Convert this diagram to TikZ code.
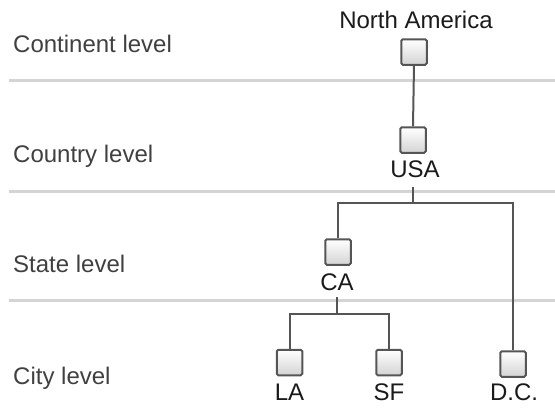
\documentclass[tikz,border=0pt]{standalone}
\usepackage{fontspec}
\setmainfont{Liberation Sans}
\usepackage{tikz}

\definecolor{sepgray}{HTML}{D4D4D4}
\definecolor{linegray}{HTML}{555555}
\definecolor{levelgray}{HTML}{404040}
\definecolor{textblack}{HTML}{1A1A1A}

\begin{document}
\begin{tikzpicture}[x=1pt,y=-1pt,
		box/.style={draw=linegray, line width=2pt, rounded corners=1.5pt,
			top color=white, bottom color=black!17,
			minimum size=25.5pt, inner sep=0pt},
		nodelbl/.style={anchor=base, inner sep=0pt, text=textblack,
			font=\fontsize{24}{28}\selectfont},
		levellbl/.style={anchor=base west, inner sep=0pt, text=levelgray,
			font=\fontsize{24}{28}\selectfont},
		sepline/.style={draw=sepgray, line width=3pt},
		conn/.style={draw=linegray, line width=2pt}]
	\useasboundingbox (0,0) rectangle (555,408);
	
	% szintek elválasztói
	\draw[sepline] (9,80) -- (555,80);
	\draw[sepline] (9,191) -- (555,191);
	\draw[sepline] (9,300) -- (555,300);
	
	% szintek feliratai
	\node[levellbl] (lvcont) at (13,52) {Continent level};
	\node[levellbl] (lvcoun) at (13,162) {Country level};
	\node[levellbl] (lvstat) at (13,272) {State level};
	\node[levellbl] (lvcity) at (13,384) {City level};
	
	% dobozok
	\node[box] (na) at (414,52) {};
	\node[box] (usa) at (413,140) {};
	\node[box] (ca) at (338,252) {};
	\node[box] (la) at (289.5,362.5) {};
	\node[box] (sf) at (389,362.5) {};
	\node[box] (dc) at (513,364) {};
	
	% nevek
	\node[nodelbl] (naT) at (416,28) {North America};
	\node[nodelbl] (usaT) at (415,177) {USA};
	\node[nodelbl] (caT) at (337,290) {CA};
	\node[nodelbl] (laT) at (289.5,400) {LA};
	\node[nodelbl] (sfT) at (389,400) {SF};
	\node[nodelbl] (dcT) at (514,400) {D.C.};
	
	% csomópontok
	\coordinate (usaS) at (413,187);
	\coordinate (j1) at (413,203);
	\coordinate (caS) at (337,297);
	\coordinate (j2) at (337,314);
	
	% vonalak
	\draw[conn] (na.south) -- (usa.north);
	\draw[conn] (usaS) -- (j1);
	\draw[conn] (ca.north) |- (j1) -| (dc.north);
	\draw[conn] (caS) -- (j2);
	\draw[conn] (la.north) |- (j2) -| (sf.north);
	
\end{tikzpicture}
\end{document}
